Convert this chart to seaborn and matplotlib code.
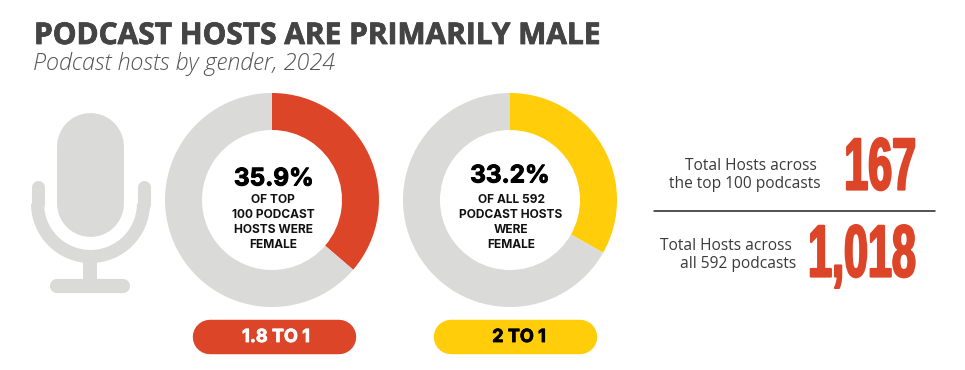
import matplotlib
matplotlib.use("Agg")
import matplotlib.pyplot as plt
from matplotlib.patches import Arc, Rectangle
from matplotlib.patheffects import AbstractPathEffect, withStroke
from matplotlib.transforms import Affine2D
import seaborn as sns

sns.set_theme(style="white")
plt.rcParams['font.family'] = ['Lato', 'DejaVu Sans']

RED = "#DC4528"
YELLOW = "#FFCD0A"
GREY = "#DADAD9"
DARK = "#444444"

female_share = [36.3, 33.2]
donut_colors = [RED, YELLOW]
percent_labels = ["35.9%", "33.2%"]
donut_captions = ["OF TOP\n100 PODCAST\nHOSTS WERE\nFEMALE", "OF ALL 592\nPODCAST HOSTS\nWERE\nFEMALE"]
ratio_labels = ["1.8 TO 1", "2 TO 1"]
ratio_text_colors = ["white", "black"]
total_values = ["167", "1,018"]
total_lines = [["Total Hosts across", "the top 100 podcasts"], ["Total Hosts across", "all 592 podcasts"]]

W, H = 965, 370
fig = plt.figure(figsize=(W / 100, H / 100), dpi=100, facecolor="white")

bg = fig.add_axes([0, 0, 1, 1])
bg.set_xlim(0, W)
bg.set_ylim(H, 0)
bg.axis("off")


class Tall(AbstractPathEffect):
    """Stretches a text vertically about its baseline (no condensed font is installed)."""
    def __init__(self, y_anchor, sy, stroke):
        super().__init__()
        self.y, self.sy, self.stroke = y_anchor, sy, stroke

    def draw_path(self, renderer, gc, tpath, affine, rgbFace=None):
        t = affine + Affine2D().translate(0, -self.y).scale(1, self.sy).translate(0, self.y)
        g = renderer.new_gc()
        g.copy_properties(gc)
        g.set_foreground(rgbFace)
        g.set_linewidth(self.stroke)
        renderer.draw_path(g, tpath, t, rgbFace)
        g.restore()


title = bg.text(34, 36, "PODCAST HOSTS ARE PRIMARILY MALE", fontsize=21.5, fontweight="bold",
                color=DARK, va="center", ha="left", family="Open Sans")
title.set_path_effects([withStroke(linewidth=0.6, foreground=DARK)])
bg.text(33, 64, "Podcast hosts by gender, 2024", fontsize=16.8, style="italic", fontweight="light",
        color="#555555", va="center", ha="left", family="Open Sans")

# microphone icon
bg.plot([89.5, 89.5], [145.5, 202.5], color=GREY, lw=48.2, solid_capstyle="round")
bg.add_patch(Arc((90.5, 203.5), 106, 106, theta1=0, theta2=180, ec=GREY, lw=9.4))
for x in (37.5, 143.5):
    bg.plot([x, x], [187, 203.5], color=GREY, lw=9.4, solid_capstyle="round")
bg.add_patch(Rectangle((83, 260), 14, 21, fc=GREY, ec="none"))
bg.plot([57, 123], [286, 286], color=GREY, lw=10.2, solid_capstyle="round")

# donuts
centers = [272, 510]
R, r = 107, 70
for cx, share, col in zip(centers, female_share, donut_colors):
    ax = fig.add_axes([(cx - R) / W, 1 - (200 + R) / H, 2 * R / W, 2 * R / H])
    ax.pie([share, 100 - share], colors=[col, GREY], startangle=90, counterclock=False, radius=1,
           wedgeprops=dict(width=1 - r / R, linewidth=0))
    ax.set_xlim(-1, 1)
    ax.set_ylim(-1, 1)
    ax.set_aspect("equal")

fg = fig.add_axes([0, 0, 1, 1], facecolor="none")
fg.set_xlim(0, W)
fg.set_ylim(H, 0)
fg.axis("off")
for cx, pct, cap, py, px in zip(centers, percent_labels, donut_captions, [179, 176], [274, 510]):
    p = fg.text(px, py, pct, fontsize=17.5, fontweight="bold", color="black",
                ha="center", va="center", family="Inter")
    p.set_path_effects([withStroke(linewidth=0.7, foreground="black")])
    fg.text(cx + 1, 222.5, cap, fontsize=8.6, fontweight="bold", color="#111111", ha="center",
            va="center", linespacing=1.32, family="Inter")

# ratio pills
for cx, tx, col, lab, tc in zip([274.5, 515.5], [276, 519], donut_colors, ratio_labels, ratio_text_colors):
    bg.plot([cx - 64.5, cx + 64.5], [337, 337], color=col, lw=24.8, solid_capstyle="round")
    q = bg.text(tx, 337.5, lab, fontsize=13, fontweight="bold", color=tc, ha="center", va="center", family="Inter")
    q.set_path_effects([withStroke(linewidth=0.6, foreground=tc)])

# totals
for lines, rights, ys in zip(total_lines, [[817, 821], [792, 796]], [[166, 184], [246, 264]]):
    for s, xr, y in zip(lines, rights, ys):
        bg.text(xr, y, s, fontsize=11.2, color="#3A3A3A", ha="right", va="center", family="Open Sans")
bg.plot([654, 935], [210.5, 210.5], color="#222222", lw=1.1)

for s, y in zip(total_values, [189.5, 276.5]):
    t = bg.text(916, y, s, fontsize=31, fontweight="bold", color=RED, ha="right", va="baseline",
                family="Liberation Sans")
    t.set_path_effects([Tall(bg.transData.transform((0, y))[1], 1.71, 1.6)])

fig.savefig("out.png", dpi=100, facecolor="white")
